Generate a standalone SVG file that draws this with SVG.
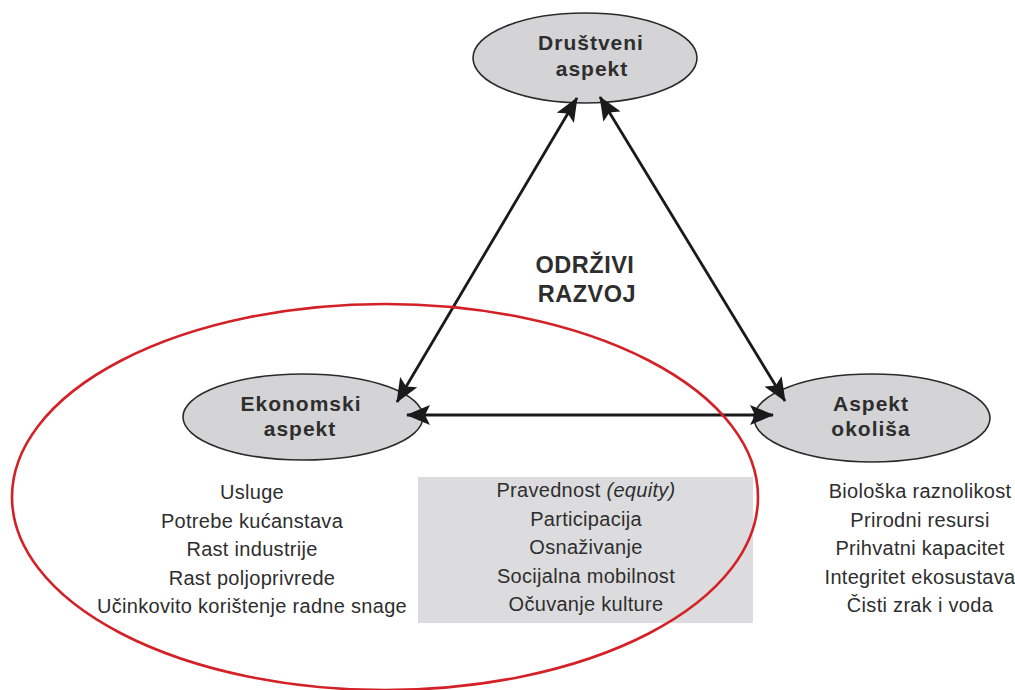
<svg xmlns="http://www.w3.org/2000/svg" width="1015" height="690" viewBox="0 0 1015 690">
<style>
.node{fill:#d4d4d6;stroke:#2a2a2a;stroke-width:1.6}
.lbl{font-family:"Liberation Sans",Arial,sans-serif;font-weight:bold;font-size:21px;letter-spacing:1px;fill:#2e2e2e;text-anchor:middle}
.title{font-family:"Liberation Sans",Arial,sans-serif;font-weight:bold;font-size:23.5px;letter-spacing:0.5px;fill:#2e2e2e;text-anchor:middle}
.item{font-family:"Liberation Sans",Arial,sans-serif;font-size:20px;letter-spacing:0.3px;fill:#2e2e2e;text-anchor:middle}
.conn{stroke:#1a1a1a;stroke-width:2.8;fill:none;marker-start:url(#ah);marker-end:url(#ah)}
</style>
<defs>
<marker id="ah" markerUnits="userSpaceOnUse" markerWidth="24" markerHeight="20" refX="23" refY="10" orient="auto-start-reverse">
<path d="M0,0 L24,10 L0,20 L5,10 z" fill="#1a1a1a"/>
</marker>
</defs>
<rect width="1015" height="690" fill="#fff"/>
<rect id="shared-box" x="418" y="477" width="335" height="146" fill="#dcdcde"/>
<g id="drustveni">
<ellipse class="node" cx="585" cy="58" rx="112" ry="45"/>
<text class="lbl" x="591" y="50">Društveni</text>
<text class="lbl" x="592" y="76">aspekt</text>
</g>
<g id="ekonomski">
<ellipse class="node" cx="303" cy="417" rx="120" ry="43"/>
<text class="lbl" x="301" y="411">Ekonomski</text>
<text class="lbl" x="300" y="436">aspekt</text>
</g>
<g id="okolis">
<ellipse class="node" cx="872" cy="418" rx="118" ry="44"/>
<text class="lbl" x="871" y="411">Aspekt</text>
<text class="lbl" x="871" y="436">okoliša</text>
</g>
<g id="connectors">
<line class="conn" x1="577" y1="98" x2="397" y2="402"/>
<line class="conn" x1="600" y1="97" x2="785" y2="401"/>
<line class="conn" x1="407" y1="415" x2="773" y2="415"/>
</g>
<g id="center-title">
<text class="title" x="585" y="273">ODRŽIVI</text>
<text class="title" x="587" y="302">RAZVOJ</text>
</g>
<g id="econ-list">
<text class="item" x="252" y="499">Usluge</text>
<text class="item" x="252" y="527.5">Potrebe kućanstava</text>
<text class="item" x="252" y="556">Rast industrije</text>
<text class="item" x="252" y="584.5">Rast poljoprivrede</text>
<text class="item" x="252" y="613">Učinkovito korištenje radne snage</text>
</g>
<g id="social-list">
<text class="item" x="586" y="497">Pravednost <tspan font-style="italic">(equity)</tspan></text>
<text class="item" x="586" y="525.5">Participacija</text>
<text class="item" x="586" y="554">Osnaživanje</text>
<text class="item" x="586" y="582.5">Socijalna mobilnost</text>
<text class="item" x="586" y="611">Očuvanje kulture</text>
</g>
<g id="env-list">
<text class="item" x="920" y="498">Biološka raznolikost</text>
<text class="item" x="920" y="526.5">Prirodni resursi</text>
<text class="item" x="920" y="555">Prihvatni kapacitet</text>
<text class="item" x="920" y="583.5">Integritet ekosustava</text>
<text class="item" x="920" y="612">Čisti zrak i voda</text>
</g>
<ellipse id="highlight" cx="385" cy="497" rx="373" ry="193" fill="none" stroke="#d42027" stroke-width="2.6"/>
</svg>
